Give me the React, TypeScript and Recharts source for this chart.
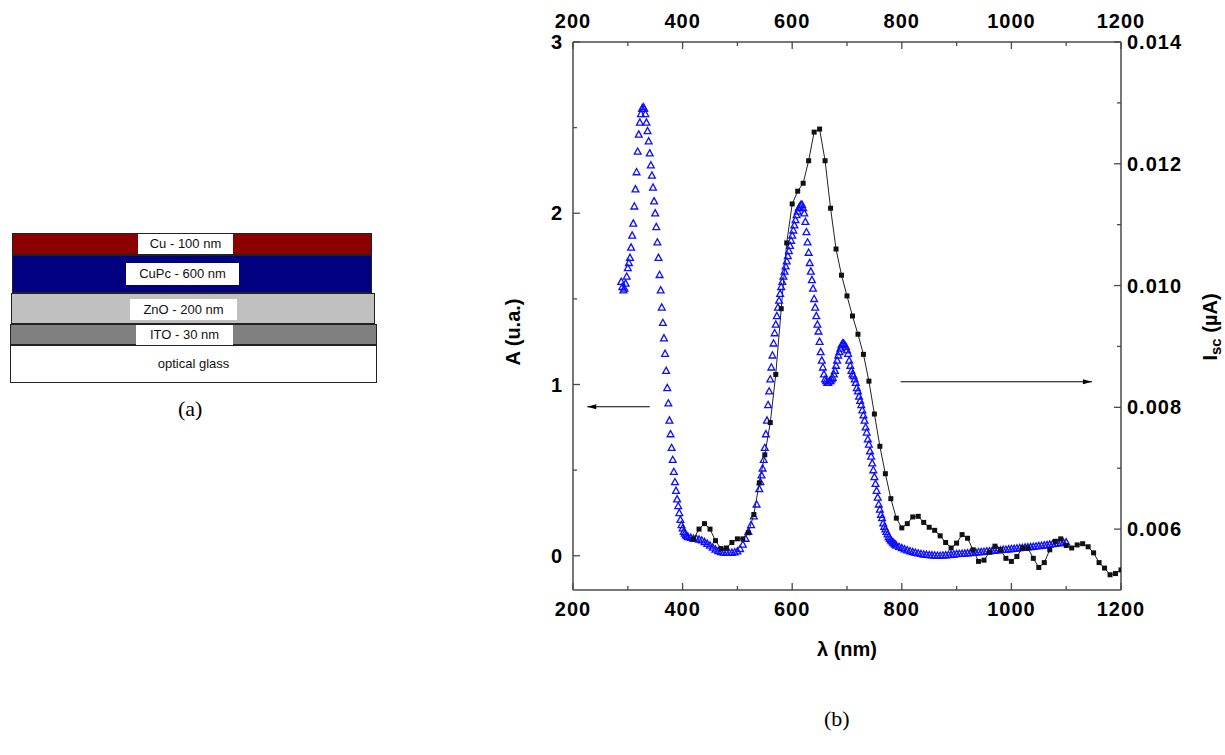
import React from 'react';
import { ComposedChart, Line, Scatter, XAxis, YAxis, ReferenceLine } from 'recharts';

// absorbance A (u.a.) vs wavelength (nm), blue triangles
const absUvPeak: [number, number][] = [
  [288, 1.6], [290, 1.57], [292, 1.55], [294, 1.56], [296, 1.59], [298, 1.63], [300, 1.68],
  [302, 1.71], [304, 1.74], [306, 1.8], [308, 1.87], [310, 1.94], [312, 2.04], [314, 2.14],
  [316, 2.24], [318, 2.36], [320, 2.46], [322, 2.53], [324, 2.58], [326, 2.61], [328, 2.62],
  [330, 2.61], [332, 2.58], [334, 2.53], [336, 2.48], [338, 2.42], [340, 2.35], [342, 2.28],
  [344, 2.22], [346, 2.15], [348, 2.07], [350, 2.0], [352, 1.92], [354, 1.83], [356, 1.74],
  [358, 1.64], [360, 1.55], [362, 1.45], [364, 1.36], [366, 1.27], [368, 1.18], [370, 1.08],
  [372, 0.98], [374, 0.89], [376, 0.79], [378, 0.71], [380, 0.63], [382, 0.56], [384, 0.49],
  [386, 0.43], [388, 0.38], [390, 0.33], [392, 0.29], [394, 0.25], [396, 0.21], [398, 0.18],
  [400, 0.16], [402, 0.14], [404, 0.13], [406, 0.12], [408, 0.115], [410, 0.11],
];
const absValley: [number, number][] = [
  [415, 0.105], [420, 0.1], [425, 0.1], [430, 0.095], [435, 0.09], [440, 0.08], [445, 0.07],
  [450, 0.06], [455, 0.048], [460, 0.037], [465, 0.028], [470, 0.022], [475, 0.019], [480, 0.018],
  [485, 0.017], [490, 0.018], [495, 0.02], [500, 0.026], [505, 0.04], [510, 0.065], [515, 0.1],
  [520, 0.14], [525, 0.18], [530, 0.23], [535, 0.3], [540, 0.39],
];
const absQBand: [number, number][] = [
  [542, 0.43], [544, 0.47], [546, 0.51], [548, 0.56], [550, 0.63], [552, 0.71], [554, 0.79],
  [556, 0.88], [558, 0.96], [560, 1.03], [562, 1.1], [564, 1.17], [566, 1.24], [568, 1.3],
  [570, 1.35], [572, 1.4], [574, 1.45], [576, 1.49], [578, 1.53], [580, 1.57], [582, 1.6],
  [584, 1.63], [586, 1.66], [588, 1.69], [590, 1.72], [592, 1.75], [594, 1.78], [596, 1.81],
  [598, 1.84], [600, 1.87], [602, 1.9], [604, 1.93], [606, 1.96], [608, 1.99], [610, 2.01],
  [612, 2.03], [614, 2.04], [616, 2.05], [618, 2.05], [620, 2.03], [622, 2.0], [624, 1.95],
  [626, 1.89], [628, 1.83], [630, 1.77], [632, 1.71], [634, 1.66], [636, 1.61], [638, 1.56],
  [640, 1.5], [642, 1.45], [644, 1.4], [646, 1.35], [648, 1.31], [650, 1.25], [652, 1.19],
  [654, 1.14], [656, 1.1], [658, 1.06], [660, 1.03], [662, 1.02], [664, 1.01], [666, 1.01],
  [668, 1.02], [670, 1.02], [672, 1.03], [674, 1.04], [676, 1.06], [678, 1.08], [680, 1.11],
  [682, 1.14], [684, 1.17], [686, 1.19], [688, 1.21], [690, 1.23], [692, 1.24], [694, 1.24],
  [696, 1.23], [698, 1.22], [700, 1.2], [702, 1.18], [704, 1.14], [706, 1.11], [708, 1.08],
  [710, 1.06], [712, 1.05], [714, 1.03], [716, 1.01], [718, 0.98], [720, 0.96], [722, 0.93],
  [724, 0.905], [726, 0.88], [728, 0.85], [730, 0.82], [732, 0.79], [734, 0.75], [736, 0.72],
  [738, 0.68], [740, 0.65], [742, 0.61], [744, 0.58], [746, 0.54], [748, 0.5], [750, 0.46],
  [752, 0.42], [754, 0.38], [756, 0.34], [758, 0.3], [760, 0.27], [762, 0.24], [764, 0.22],
  [766, 0.19], [768, 0.17], [770, 0.155], [772, 0.14], [774, 0.125], [776, 0.11], [778, 0.1],
  [780, 0.09], [782, 0.085], [784, 0.078], [786, 0.072], [788, 0.066], [790, 0.06],
];
const absTail: [number, number][] = [
  [795, 0.052], [800, 0.045], [805, 0.038], [810, 0.032], [815, 0.027], [820, 0.022], [825, 0.018],
  [830, 0.014], [835, 0.011], [840, 0.008], [845, 0.006], [850, 0.004], [855, 0.003], [860, 0.002],
  [865, 0.001], [870, 0.001], [875, 0.002], [880, 0.003], [885, 0.005], [890, 0.006], [895, 0.008],
  [900, 0.01], [905, 0.011], [910, 0.012], [915, 0.013], [920, 0.015], [925, 0.016], [930, 0.018],
  [935, 0.019], [940, 0.021], [945, 0.022], [950, 0.024], [955, 0.026], [960, 0.027], [965, 0.029],
  [970, 0.03], [975, 0.032], [980, 0.033], [985, 0.035], [990, 0.036], [995, 0.038], [1000, 0.04],
  [1005, 0.041], [1010, 0.043], [1015, 0.045], [1020, 0.046], [1025, 0.048], [1030, 0.05],
  [1035, 0.051], [1040, 0.053], [1045, 0.055], [1050, 0.057], [1055, 0.059], [1060, 0.061],
  [1065, 0.063], [1070, 0.066], [1075, 0.068], [1080, 0.07], [1085, 0.073], [1090, 0.075],
  [1095, 0.077], [1100, 0.079],
];

// short-circuit current Isc (uA), black squares
const iscVisible: [number, number][] = [
  [420, 0.00584], [430, 0.006], [440, 0.00609], [450, 0.006], [460, 0.00581], [470, 0.00568],
  [480, 0.00569], [490, 0.00578], [500, 0.00584], [510, 0.00584], [520, 0.00594], [530, 0.00624],
  [540, 0.00676], [550, 0.00722], [560, 0.00775], [570, 0.00854], [580, 0.00962], [590, 0.0107],
  [600, 0.01134], [610, 0.01155], [620, 0.01168], [630, 0.01205], [640, 0.01252], [650, 0.01257],
  [660, 0.01205], [670, 0.01127], [680, 0.0106], [690, 0.01017], [700, 0.00983], [710, 0.0095],
  [720, 0.0092], [730, 0.00887], [740, 0.00843], [750, 0.00789], [760, 0.00736], [770, 0.00691],
  [780, 0.0065], [790, 0.00618],
];
const iscInfrared: [number, number][] = [
  [800, 0.00602], [810, 0.00609], [820, 0.0062], [830, 0.00621], [840, 0.00611], [850, 0.00603],
  [860, 0.00598], [870, 0.00589], [880, 0.00578], [890, 0.00569], [900, 0.00577], [910, 0.00591],
  [920, 0.00585], [930, 0.00566], [940, 0.00547], [950, 0.00549], [960, 0.00562], [970, 0.00572],
  [980, 0.00566], [990, 0.00552], [1000, 0.00547], [1010, 0.00555], [1020, 0.00569], [1030, 0.00569],
  [1040, 0.00552], [1050, 0.00537], [1060, 0.00545], [1070, 0.00566], [1080, 0.0058], [1090, 0.00584],
  [1100, 0.00573], [1110, 0.00569], [1120, 0.00574], [1130, 0.00576], [1140, 0.00571], [1150, 0.00561],
  [1160, 0.00545], [1170, 0.00536], [1180, 0.00525], [1190, 0.00527], [1200, 0.00533],
];

const xTicks = [200, 300, 400, 500, 600, 700, 800, 900, 1000, 1100, 1200];
const xLabels = [200, 400, 600, 800, 1000, 1200];
const aTicks = [0, 0.5, 1, 1.5, 2, 2.5, 3];
const aLabels = [0, 1, 2, 3];
const iTicks = [0.006, 0.007, 0.008, 0.009, 0.01, 0.011, 0.012, 0.013, 0.014];
const iLabels = [0.006, 0.008, 0.01, 0.012, 0.014];

// arrows pointing at each curve's axis
const arrowA = { from: 340, to: 226, y: 0.87 };
const arrowI = { from: 798, to: 1147, y: 0.00842 };

const layerNames = ['Cu - 100 nm', 'CuPc - 600 nm', 'ZnO - 200 nm', 'ITO - 30 nm', 'optical glass'];
const layerColors = ['#8b0000', '#000080', '#c0c0c0', '#808080', '#ffffff'];
const layerBoxes = [
  { left: 12, top: 233, width: 360, height: 22, lx: 138, lw: 95, ly: 234, lh: 20 },
  { left: 12, top: 255, width: 360, height: 38, lx: 126, lw: 113, ly: 263, lh: 22 },
  { left: 11, top: 293, width: 364, height: 31, lx: 130, lw: 107, ly: 299, lh: 21 },
  { left: 10, top: 324, width: 367, height: 21, lx: 136, lw: 97, ly: 325, lh: 20 },
  { left: 10, top: 345, width: 367, height: 38, lx: 0, lw: 0, ly: 0, lh: 0 },
];

const absData = [...absUvPeak, ...absValley, ...absQBand, ...absTail].map(([x, a]) => ({ x, a }));
const iscData = [...iscVisible, ...iscInfrared].map(([x, i]) => ({ x, i }));

const FONT = '"Liberation Sans", Arial, sans-serif';
const AXIS = '#4a4a4a';
const has = (list: number[], v: number) => list.some((l) => Math.abs(l - v) < 1e-9);
const tickText = { fontFamily: FONT, fontWeight: 700, fontSize: 20, fill: '#000', letterSpacing: 1 };

const BottomTick = (p: any) => {
  const major = has(xLabels, p.payload.value);
  return (
    <g>
      <line x1={p.x} y1={p.y} x2={p.x} y2={p.y - (major ? 7 : 4)} stroke={AXIS} strokeWidth={1.3} />
      {major && <text x={p.x} y={p.y + 26} textAnchor="middle" style={tickText}>{p.payload.value}</text>}
    </g>
  );
};

const TopTick = (p: any) => {
  const major = has(xLabels, p.payload.value);
  return (
    <g>
      <line x1={p.x} y1={p.y} x2={p.x} y2={p.y + (major ? 7 : 4)} stroke={AXIS} strokeWidth={1.3} />
      {major && <text x={p.x} y={p.y - 14} textAnchor="middle" style={tickText}>{p.payload.value}</text>}
    </g>
  );
};

const LeftTick = (p: any) => {
  const major = has(aLabels, p.payload.value);
  return (
    <g>
      <line x1={p.x} y1={p.y} x2={p.x + (major ? 7 : 4)} y2={p.y} stroke={AXIS} strokeWidth={1.3} />
      {major && <text x={p.x - 10} y={p.y + 7} textAnchor="end" style={tickText}>{p.payload.value}</text>}
    </g>
  );
};

const RightTick = (p: any) => {
  const major = has(iLabels, p.payload.value);
  return (
    <g>
      <line x1={p.x} y1={p.y} x2={p.x - (major ? 7 : 4)} y2={p.y} stroke={AXIS} strokeWidth={1.3} />
      {major && <text x={p.x + 6} y={p.y + 7} textAnchor="start" style={tickText}>{p.payload.value.toFixed(3)}</text>}
    </g>
  );
};

const Triangle = (p: any) => {
  const { cx, cy } = p;
  if (cx == null || cy == null) return <g />;
  return (
    <polygon
      points={`${cx},${cy - 3.6} ${cx - 3.4},${cy + 2.6} ${cx + 3.4},${cy + 2.6}`}
      fill="none"
      stroke="#0d0dff"
      strokeWidth={1.3}
    />
  );
};

const SquareDot = (p: any) => (
  <rect key={`sq-${p.index}`} x={p.cx - 2.5} y={p.cy - 2.5} width={5} height={5} fill="#111" />
);

const Arrow = (p: any) => {
  const { x1, y1, x2, y2 } = p;
  const dir = x2 > x1 ? 1 : -1;
  return (
    <g>
      <line x1={x1} y1={y1} x2={x2} y2={y2} stroke="#000" strokeWidth={1.2} />
      <polygon points={`${x2},${y2} ${x2 - dir * 9},${y2 - 2.5} ${x2 - dir * 9},${y2 + 2.5}`} fill="#000" />
    </g>
  );
};

const labelStyle = { fontFamily: FONT, fontWeight: 700, fontSize: 20, fill: '#000' };

const Stack = () => (
  <div style={{ position: 'absolute', left: 0, top: 0, width: 400, height: 440 }}>
    {layerBoxes.map((b, i) => (
      <div
        key={layerNames[i]}
        style={{
          position: 'absolute', left: b.left, top: b.top, width: b.width, height: b.height,
          background: layerColors[i], border: '1px solid #222', boxSizing: 'border-box',
        }}
      />
    ))}
    {layerBoxes.map((b, i) =>
      i < 4 ? (
        <div
          key={`l-${i}`}
          style={{
            position: 'absolute', left: b.lx, top: b.ly, width: b.lw, height: b.lh, background: '#fff',
            fontFamily: FONT, fontSize: 13, lineHeight: `${b.lh}px`, textAlign: 'center', color: '#111',
          }}
        >
          {layerNames[i]}
        </div>
      ) : (
        <div
          key={`l-${i}`}
          style={{
            position: 'absolute', left: b.left, top: b.top, width: b.width, height: b.height,
            fontFamily: FONT, fontSize: 13, lineHeight: `${b.height}px`, textAlign: 'center', color: '#111',
          }}
        >
          {layerNames[i]}
        </div>
      )
    )}
    <div style={{ position: 'absolute', left: 178, top: 396, fontFamily: '"Liberation Serif", serif', fontSize: 22 }}>
      (a)
    </div>
  </div>
);

export default function App() {
  return (
    <div style={{ position: 'absolute', left: 0, top: 0, width: 1225, height: 755, background: '#fff' }}>
      <Stack />
      <div style={{ position: 'absolute', left: 0, top: 0 }}>
        <ComposedChart width={1225} height={755} margin={{ top: 12, right: 44, bottom: 135, left: 513 }}>
          <XAxis
            xAxisId="b" dataKey="x" type="number" domain={[200, 1200]} ticks={xTicks} interval={0}
            orientation="bottom" height={30} tickSize={0} tickMargin={0} tick={BottomTick}
            tickLine={false} axisLine={{ stroke: AXIS, strokeWidth: 1.5 }} allowDataOverflow
            label={{
              content: (lp: any) => (
                <text x={lp.viewBox.x + lp.viewBox.width / 2} y={lp.viewBox.y + 66} textAnchor="middle" style={labelStyle}>
                  λ (nm)
                </text>
              ),
            }}
          />
          <XAxis
            xAxisId="t" dataKey="x" type="number" domain={[200, 1200]} ticks={xTicks} interval={0}
            orientation="top" height={30} tickSize={0} tickMargin={0} tick={TopTick}
            tickLine={false} axisLine={{ stroke: AXIS, strokeWidth: 1.5 }} allowDataOverflow
          />
          <YAxis
            yAxisId="A" type="number" domain={[-0.2, 3]} ticks={aTicks} interval={0}
            orientation="left" width={60} tickSize={0} tickMargin={0} tick={LeftTick}
            tickLine={false} axisLine={{ stroke: AXIS, strokeWidth: 1.5 }} allowDataOverflow
            label={{
              content: (lp: any) => {
                const cx = lp.viewBox.x;
                const cy = lp.viewBox.y + lp.viewBox.height / 2 + 16;
                return (
                  <text x={cx} y={cy} transform={`rotate(-90 ${cx} ${cy})`} textAnchor="middle" dominantBaseline="central" style={labelStyle}>
                    A (u.a.)
                  </text>
                );
              },
            }}
          />
          <YAxis
            yAxisId="I" type="number" domain={[0.005, 0.014]} ticks={iTicks} interval={0}
            orientation="right" width={60} tickSize={0} tickMargin={0} tick={RightTick}
            tickLine={false} axisLine={{ stroke: AXIS, strokeWidth: 1.5 }} allowDataOverflow
            label={{
              content: (lp: any) => {
                const cx = lp.viewBox.x + 89;
                const cy = lp.viewBox.y + lp.viewBox.height / 2 + 11;
                return (
                  <text x={cx} y={cy} transform={`rotate(-90 ${cx} ${cy})`} textAnchor="middle" dominantBaseline="central" style={labelStyle}>
                    I
                    <tspan fontSize={15} dy={5}>sc</tspan>
                    <tspan dy={-5}> (µA)</tspan>
                  </text>
                );
              },
            }}
          />
          <Scatter
            data={absData} dataKey="a" xAxisId="b" yAxisId="A"
            shape={Triangle} isAnimationActive={false}
          />
          <Line
            data={iscData} dataKey="i" xAxisId="b" yAxisId="I" type="linear"
            stroke="#222" strokeWidth={1} dot={SquareDot} activeDot={false} isAnimationActive={false}
          />
          <ReferenceLine
            xAxisId="b" yAxisId="A" ifOverflow="visible"
            segment={[{ x: arrowA.from, y: arrowA.y }, { x: arrowA.to, y: arrowA.y }]}
            shape={Arrow}
          />
          <ReferenceLine
            xAxisId="b" yAxisId="I" ifOverflow="visible"
            segment={[{ x: arrowI.from, y: arrowI.y }, { x: arrowI.to, y: arrowI.y }]}
            shape={Arrow}
          />
        </ComposedChart>
      </div>
      <div style={{ position: 'absolute', left: 824, top: 706, fontFamily: '"Liberation Serif", serif', fontSize: 22 }}>
        (b)
      </div>
    </div>
  );
}
